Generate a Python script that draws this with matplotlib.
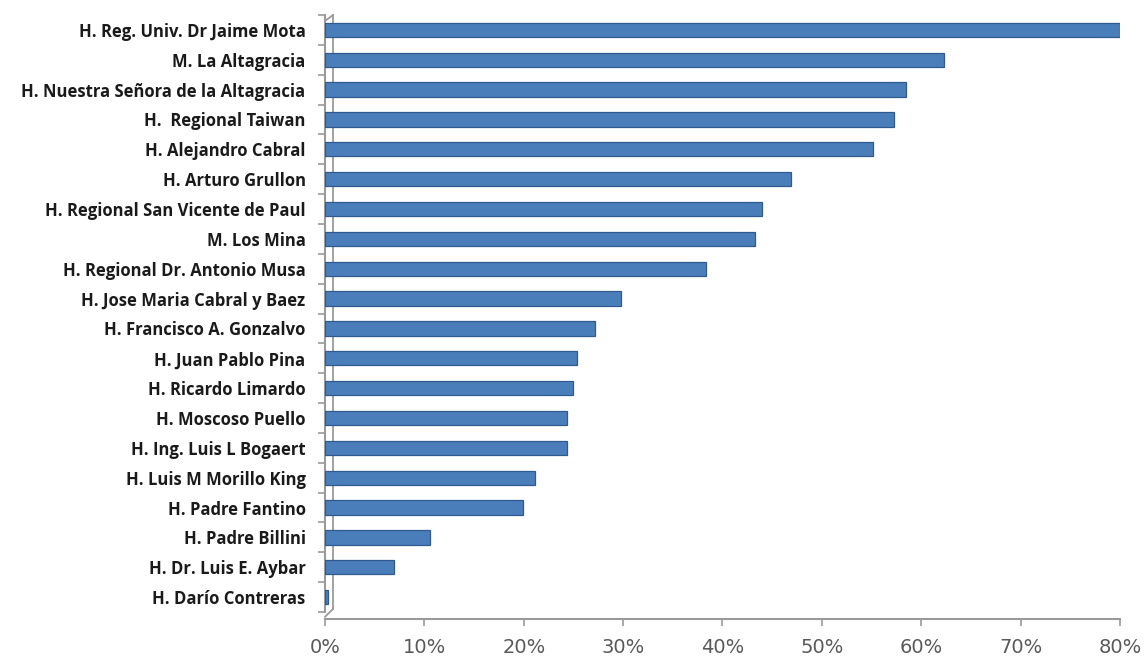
import matplotlib.pyplot as plt
from matplotlib.ticker import PercentFormatter, FixedLocator
import matplotlib.transforms as mtransforms

# Datos (de arriba hacia abajo)
hospitales = [
    "H. Reg. Univ. Dr Jaime Mota",
    "M. La Altagracia",
    "H. Nuestra Señora de la Altagracia",
    "H.  Regional Taiwan",
    "H. Alejandro Cabral",
    "H. Arturo Grullon",
    "H. Regional San Vicente de Paul",
    "M. Los Mina",
    "H. Regional Dr. Antonio Musa",
    "H. Jose Maria Cabral y Baez",
    "H. Francisco A. Gonzalvo",
    "H. Juan Pablo Pina",
    "H. Ricardo Limardo",
    "H. Moscoso Puello",
    "H. Ing. Luis L Bogaert",
    "H. Luis M Morillo King",
    "H. Padre Fantino",
    "H. Padre Billini",
    "H. Dr. Luis E. Aybar",
    "H. Darío Contreras",
]
porcentajes = [80.0, 62.3, 58.5, 57.3, 55.1, 46.9, 44.0, 43.3, 38.3, 29.8,
               27.2, 25.4, 25.0, 24.4, 24.4, 21.1, 19.9, 10.6, 6.9, 0.3]

x_ticks = [0, 10, 20, 30, 40, 50, 60, 70, 80]

fig = plt.figure(figsize=(11.46, 6.64), dpi=100)
ax = fig.add_axes([0.2836, 0.0783, 0.6937, 0.8991])

y = list(range(len(hospitales)))[::-1]
ax.barh(y, porcentajes, height=0.48, color="#4A7EBB", edgecolor="#2E5A8E",
        linewidth=0.9, zorder=3)

ax.set_xlim(0, 80)
ax.set_ylim(-0.5, len(hospitales) - 0.5)

ax.set_yticks(y)
ax.set_yticklabels(hospitales, fontfamily="Open Sans", fontweight="bold",
                   fontsize=12, color="#1a1a1a")
ax.tick_params(axis="y", length=0, pad=14)
ax.yaxis.set_minor_locator(FixedLocator([i - 0.5 for i in range(len(hospitales) + 1)]))
ax.tick_params(axis="y", which="minor", length=5, color="#9a9a9a", width=1.2)

ax.set_xticks(x_ticks)
ax.xaxis.set_major_formatter(PercentFormatter(decimals=0))
ax.tick_params(axis="x", length=5, color="#9a9a9a", width=1.2, pad=9,
               labelsize=14, labelcolor="#595959")
for lbl in ax.get_xticklabels():
    lbl.set_fontfamily("Open Sans")

for s in ["top", "right"]:
    ax.spines[s].set_visible(False)
ax.spines["left"].set_color("#9a9a9a")
ax.spines["left"].set_linewidth(1.5)
ax.spines["bottom"].set_color("#9a9a9a")
ax.spines["bottom"].set_linewidth(1.5)
ax.spines["bottom"].set_position(("outward", 5))

# pared lateral 3D
tr = mtransforms.blended_transform_factory(ax.transData, ax.transAxes)
ax.plot([0.8, 0.8], [0.005, 1.0], color="#9a9a9a", lw=1.3, transform=tr,
        clip_on=False, zorder=2)
ax.plot([0, 0.8], [-0.008, 0.005], color="#9a9a9a", lw=1.3, transform=tr,
        clip_on=False, zorder=2)
ax.plot([0, 0.8], [0.99, 1.0], color="#9a9a9a", lw=1.3, transform=tr,
        clip_on=False, zorder=2)

fig.savefig("out.png", dpi=100)
